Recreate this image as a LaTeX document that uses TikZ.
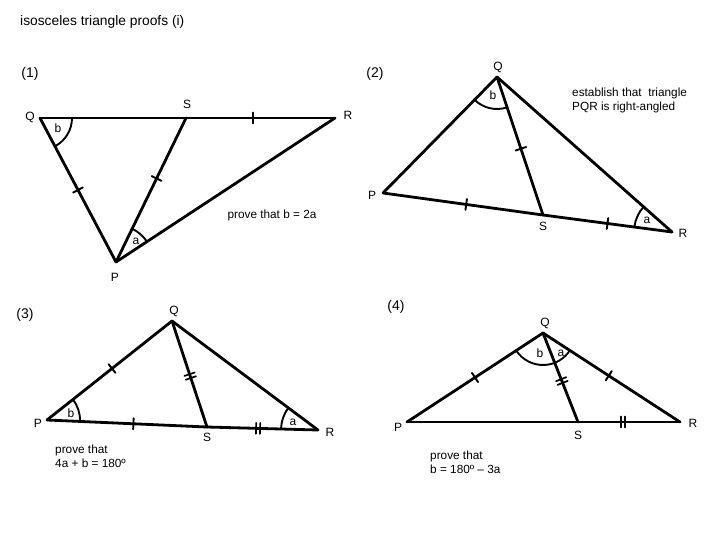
\documentclass[tikz,border=0pt]{standalone}
\usepackage{fontspec}
\setmainfont{Liberation Sans}
\usetikzlibrary{decorations.markings,angles}
\begin{document}
\begin{tikzpicture}[x=1pt,y=-1pt,
  edge/.style={line width=2.8pt, line cap=round, line join=round},
  tickat/.style={postaction={decorate, decoration={markings,
      mark=at position #1 with {\draw[line width=1.9pt] (0,-5.5) -- (0,5.5);}}}},
  dtickat/.style={postaction={decorate, decoration={markings,
      mark=at position #1 with {\draw[line width=1.7pt] (-2,-5.5) -- (-2,5.5) (2,-5.5) -- (2,5.5);}}}},
  arcline/.style={draw, line width=1.9pt},
  vlab/.style={font=\fontsize{12}{14}\selectfont, inner sep=0pt},
  num/.style={font=\fontsize{14}{16}\selectfont, inner sep=0pt},
  note/.style={font=\fontsize{11.8}{14}\selectfont, inner sep=0pt, align=left}]
\useasboundingbox (0,0) rectangle (720,540);
\node[anchor=west, font=\fontsize{13.8}{16}\selectfont, inner sep=0pt] (title) at (20,22) {isosceles triangle proofs (i)};

% ---------- (1)
\node[num] (n1) at (30,74) {(1)};
\coordinate (Q1) at (40,118);
\coordinate (S1) at (186,118);
\coordinate (R1) at (335,118);
\coordinate (P1) at (116,262);
\draw[edge, tickat=0.722] (Q1) -- (R1);
\draw[edge, tickat=0.5] (Q1) -- (P1);
\draw[edge, tickat=0.42] (S1) -- (P1);
\draw[edge] (P1) -- (R1);
\pic[arcline, angle radius=32pt] {angle=P1--Q1--R1};
\pic[arcline, angle radius=37pt] {angle=R1--P1--S1};
\node[vlab] (b1) at (58,128) {b};
\node[vlab] (a1) at (136,241) {a};
\node[vlab] (lQ1) at (30,117) {Q};
\node[vlab] (lS1) at (187,104) {S};
\node[vlab] (lR1) at (348,115) {R};
\node[vlab] (lP1) at (115,277) {P};
\node[note] (t1) at (272,215) {prove that b = 2a};

% ---------- (2)
\node[num] (n2) at (375,74) {(2)};
\coordinate (Q2) at (497,77);
\coordinate (P2) at (383,193);
\coordinate (S2) at (543,215);
\coordinate (R2) at (672,232);
\draw[edge] (Q2) -- (P2);
\draw[edge] (Q2) -- (R2);
\draw[edge, tickat=0.52] (Q2) -- (S2);
\draw[edge, tickat=0.52] (P2) -- (S2);
\draw[edge, tickat=0.5] (S2) -- (R2);
\pic[arcline, angle radius=32pt] {angle=P2--Q2--S2};
\pic[arcline, angle radius=38pt] {angle=Q2--R2--P2};
\node[vlab] (b2) at (493,95) {b};
\node[vlab] (a2) at (647,220) {a};
\node[vlab] (lQ2) at (498,67) {Q};
\node[vlab] (lP2) at (372,195) {P};
\node[vlab] (lS2) at (543,226) {S};
\node[vlab] (lR2) at (683,233) {R};
\node[note, anchor=west] (t2) at (572,100) {establish that\ \ triangle\\PQR is right-angled};

% ---------- (3)
\node[num] (n3) at (25,315) {(3)};
\coordinate (Q3) at (172,321);
\coordinate (P3) at (47,420);
\coordinate (S3) at (207,427);
\coordinate (R3) at (318,430);
\draw[edge, tickat=0.52] (P3) -- (Q3);
\draw[edge] (Q3) -- (R3);
\draw[edge, dtickat=0.52] (Q3) -- (S3);
\draw[edge, tickat=0.54] (P3) -- (S3);
\draw[edge, dtickat=0.46] (S3) -- (R3);
\pic[arcline, angle radius=33pt] {angle=R3--P3--Q3};
\pic[arcline, angle radius=37pt] {angle=Q3--R3--P3};
\node[vlab] (b3) at (71,413) {b};
\node[vlab] (a3) at (293,422) {a};
\node[vlab] (lQ3) at (174,311) {Q};
\node[vlab] (lP3) at (38,423) {P};
\node[vlab] (lS3) at (207,437) {S};
\node[vlab] (lR3) at (330,432) {R};
\node[note, anchor=west] (t3) at (55,456) {prove that\\4a + b = 180º};

% ---------- (4)
\node[num] (n4) at (396,307) {(4)};
\coordinate (Q4) at (543,333);
\coordinate (P4) at (407,422);
\coordinate (S4) at (578,422);
\coordinate (R4) at (680,422);
\draw[edge, tickat=0.5] (P4) -- (Q4);
\draw[edge, tickat=0.48] (Q4) -- (R4);
\draw[edge, dtickat=0.54] (Q4) -- (S4);
\draw[edge] (P4) -- (S4);
\draw[edge, dtickat=0.44] (S4) -- (R4);
\pic[arcline, angle radius=32pt] {angle=P4--Q4--R4};
\node[vlab] (b4) at (540,353) {b};
\node[vlab] (a4) at (561,353) {a};
\node[vlab] (lQ4) at (545,323) {Q};
\node[vlab] (lP4) at (398,427) {P};
\node[vlab] (lS4) at (578,435) {S};
\node[vlab] (lR4) at (693,423) {R};
\node[note, anchor=west] (t4) at (430,462) {prove that\\b = 180º – 3a};
\end{tikzpicture}
\end{document}
